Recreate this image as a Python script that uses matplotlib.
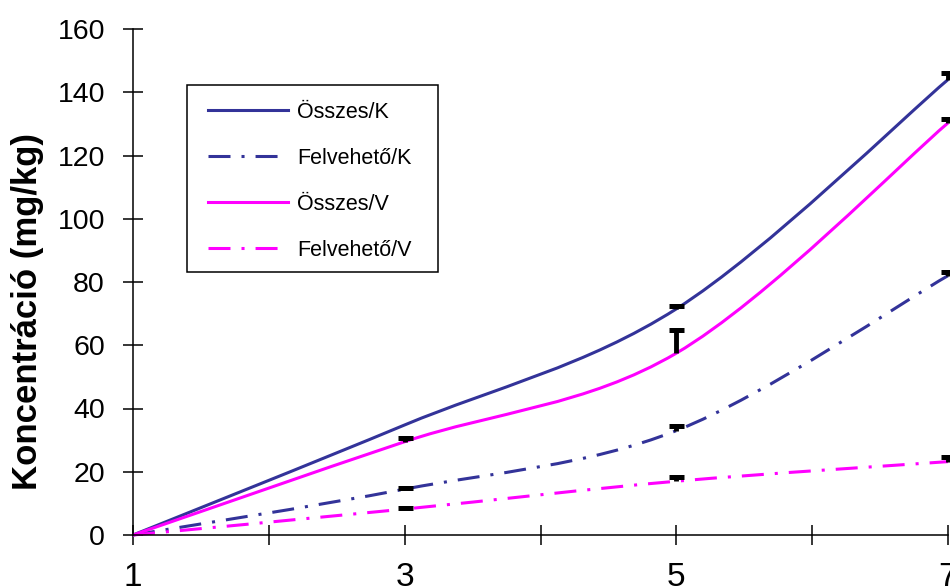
import numpy as np
import matplotlib
matplotlib.use("Agg")
import matplotlib.pyplot as plt
from matplotlib.path import Path
from matplotlib.patches import PathPatch, Rectangle
from matplotlib.lines import Line2D

plt.rcParams['font.family'] = ['Liberation Sans', 'DejaVu Sans']

# Sampling points and measured concentrations (mg/kg)
x_vals = [1, 3, 5, 7]
osszes_k = [0.0, 34.8, 71.5, 144.0]
felveheto_k = [0.0, 14.5, 33.0, 82.0]
osszes_v = [0.0, 29.5, 57.5, 130.3]
felveheto_v = [0.0, 8.2, 17.0, 23.2]

# Upper error of each point (NaN: no error bar)
osszes_k_err = [np.nan, np.nan, 0.8, 2.0]
felveheto_k_err = [np.nan, 0.5, 1.5, 1.2]
osszes_v_err = [np.nan, 1.2, 7.3, 1.2]
felveheto_v_err = [np.nan, 0.4, 1.4, 1.5]

series_names = ["Összes/K", "Felvehető/K", "Összes/V", "Felvehető/V"]
x_ticks = [1, 2, 3, 4, 5, 6, 7]
x_tick_labels = ["1", "", "3", "", "5", "", "7"]
y_ticks = [0, 20, 40, 60, 80, 100, 120, 140, 160]
y_label = "Koncentráció (mg/kg)"

BLUE = "#333399"
MAGENTA = "#FF00FF"
LW = 2.2
DASHDOT = (0, (7.2, 3.6, 1.0, 3.6))


def smooth_path(xs, ys):
    """Smoothed polyline as cubic Bezier segments (Catmull-Rom tangents)."""
    pts = np.column_stack([xs, ys]).astype(float)
    n = len(pts)
    verts = [pts[0]]
    codes = [Path.MOVETO]
    for i in range(n - 1):
        p_prev = pts[i - 1] if i > 0 else pts[i]
        p_next2 = pts[i + 2] if i + 2 < n else pts[i + 1]
        c1 = pts[i] + (pts[i + 1] - p_prev) / 6.0
        c2 = pts[i + 1] - (p_next2 - pts[i]) / 6.0
        verts += [c1, c2, pts[i + 1]]
        codes += [Path.CURVE4] * 3
    return Path(verts, codes)


fig = plt.figure(figsize=(9.5, 5.86), dpi=100)
W, H = 950.0, 586.0
ax = fig.add_axes([133 / W, 51 / H, 815 / W, 506 / H])

series = [
    (osszes_k, osszes_k_err, BLUE, "-"),
    (felveheto_k, felveheto_k_err, BLUE, DASHDOT),
    (osszes_v, osszes_v_err, MAGENTA, "-"),
    (felveheto_v, felveheto_v_err, MAGENTA, DASHDOT),
]

handles = []
for vals, errs, color, ls in series:
    patch = PathPatch(smooth_path(x_vals, vals), fill=False, edgecolor=color,
                      linewidth=LW, linestyle=ls, zorder=2, clip_on=False)
    ax.add_patch(patch)
    handles.append(Line2D([], [], color=color, linewidth=LW, linestyle=ls))

# Upper error bars: stem plus a heavy black cap
for vals, errs, color, ls in series:
    xv = np.array(x_vals, dtype=float)
    yv = np.array(vals, dtype=float)
    ev = np.array(errs, dtype=float)
    ok = np.isfinite(ev)
    ax.vlines(xv[ok], yv[ok], yv[ok] + ev[ok], colors="black",
              linewidth=3.5, zorder=3, clip_on=False)
    ax.plot(xv[ok], yv[ok] + ev[ok], linestyle="none", marker="_",
            markersize=10.8, markeredgewidth=3.6, color="black",
            zorder=4, clip_on=False)

ax.set_xlim(1, 7)
ax.set_ylim(0, 160)
ax.set_xticks(x_ticks)
ax.set_xticklabels(x_tick_labels)
ax.set_yticks(y_ticks)

for side in ("top", "right"):
    ax.spines[side].set_visible(False)
for side in ("left", "bottom"):
    ax.spines[side].set_linewidth(1.1)
    ax.spines[side].set_color("black")

ax.tick_params(axis="x", direction="inout", length=14.4, width=1.1,
               labelsize=24, pad=12)
ax.tick_params(axis="y", direction="inout", length=14.4, width=1.1,
               labelsize=20.5, pad=13)

ax.set_ylabel(y_label, fontsize=25, fontweight="bold")
ax.yaxis.set_label_coords((44 - 133) / 815.0, (535 - 311) / 506.0)

# Legend with a separately drawn square frame
frame = Rectangle((187 / W, 1 - 272 / H), 251 / W, 187 / H,
                  transform=fig.transFigure, facecolor="white",
                  edgecolor="black", linewidth=1.1, zorder=4)
ax.add_artist(frame)
leg = ax.legend(handles, series_names, loc="upper left",
                bbox_to_anchor=(208 / W, 1 - 102 / H),
                bbox_transform=fig.transFigure, frameon=False,
                borderpad=0, borderaxespad=0, handlelength=3.72,
                handletextpad=0.42, labelspacing=1.16, fontsize=15.5)
leg.set_zorder(5)

fig.savefig("out.png", dpi=100, facecolor="white")
